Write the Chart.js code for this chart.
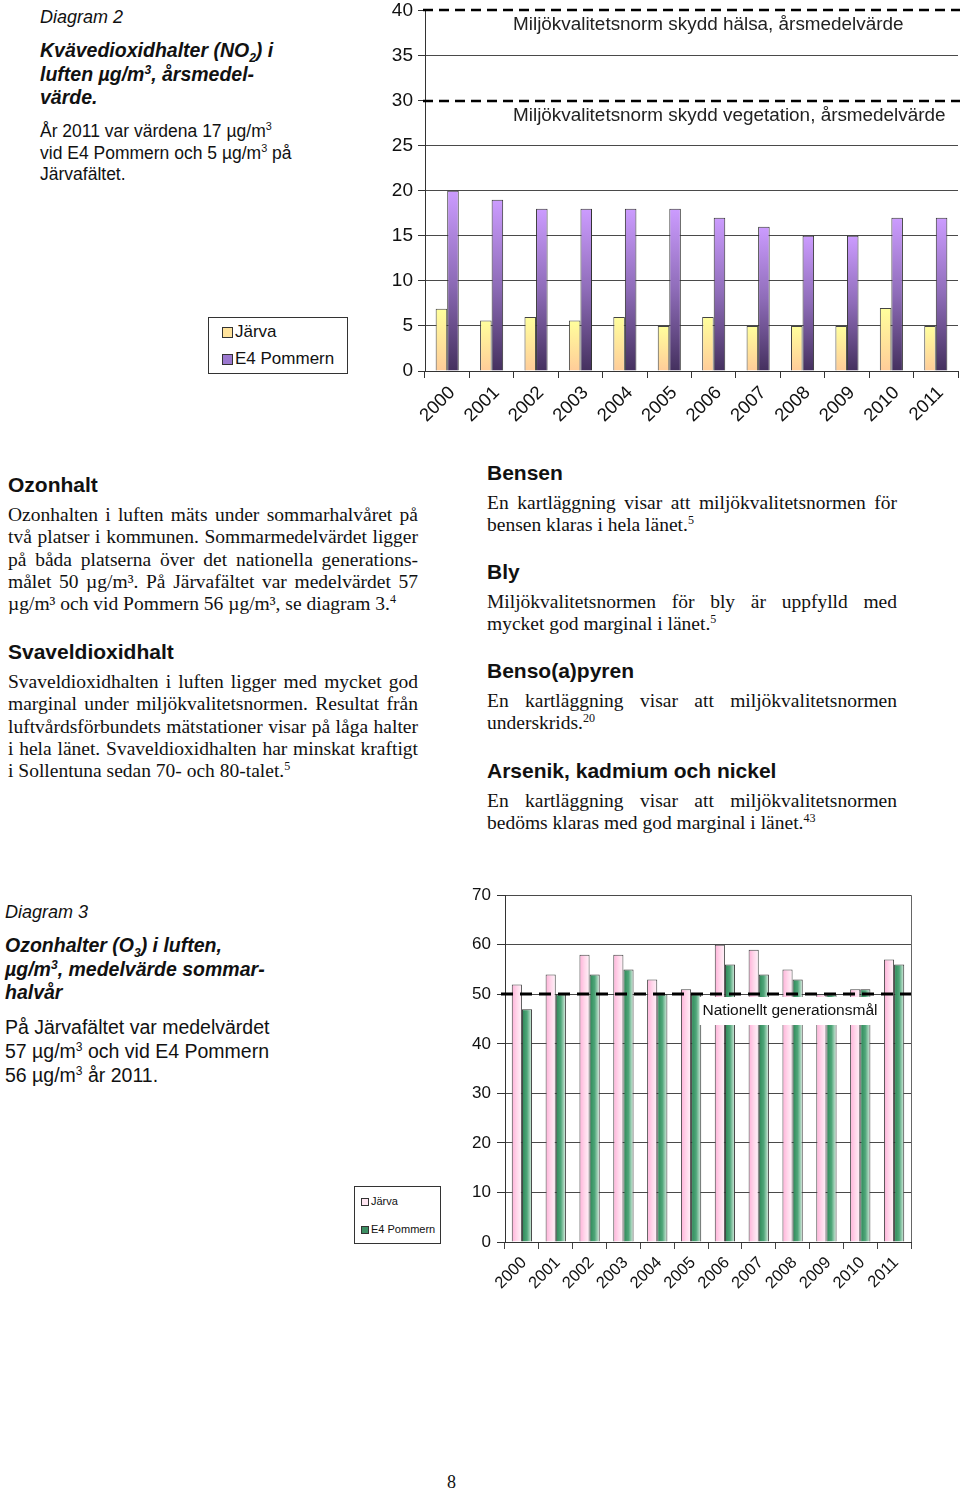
<!DOCTYPE html>
<html lang="sv">
<head>
<meta charset="utf-8">
<title>Diagram 2 och 3</title>
<script src="https://cdn.jsdelivr.net/npm/chart.js@4.4.1/dist/chart.umd.min.js"></script>
<style>
    body { margin: 0; width: 960px; height: 1491px; position: relative; background: #fff; color: #111; font-family: "Liberation Sans", Arial, sans-serif; overflow: hidden; }
    .abs { position: absolute; white-space: nowrap; }
    .cap { font-style: italic; font-size: 18px; line-height: 22px; }
    .title { font-style: italic; font-weight: bold; font-size: 19.5px; line-height: 23.5px; }
    .note { font-size: 17.5px; line-height: 21.5px; }
    .note2 { font-size: 19.5px; line-height: 24px; }
    .head { font-weight: bold; font-size: 21px; line-height: 26px; }
    .para { font-family: "Liberation Serif", "Times New Roman", serif; font-size: 19.5px; line-height: 22.3px; width: 410px; white-space: normal; }
    .para div { text-align: justify; text-align-last: justify; white-space: nowrap; }
    .para div.last { text-align-last: left; }
    sup, sub { font-size: 0.62em; line-height: 0; }
    .legend { border: 1px solid #333; background: #fff; }
    .legend .item { position: absolute; white-space: nowrap; }
    .legend .sw { display: inline-block; border: 1px solid #333; vertical-align: middle; }
    canvas { position: absolute; }
</style>
</head>
<body>

<div class="abs cap" style="left:40px; top:6px;">Diagram 2</div>
<div class="abs title" style="left:40px; top:39px;">
    <div>Kvävedioxidhalter (NO<sub>2</sub>) i</div>
    <div>luften µg/m<sup>3</sup>, årsmedel-</div>
    <div>värde.</div>
</div>
<div class="abs note" style="left:40px; top:121px;">
    <div>År 2011 var värdena 17 µg/m<sup>3</sup></div>
    <div>vid E4 Pommern och 5 µg/m<sup>3</sup> på</div>
    <div>Järvafältet.</div>
</div>

<div id="legendNo2" class="abs legend" style="left:208px; top:317px; width:138px; height:55px;"></div>
<canvas id="chartNo2" width="580" height="440" style="left:380px; top:-6px;"></canvas>

<div class="abs head" style="left:8px; top:472px;">Ozonhalt</div>
<div class="abs para" style="left:8px; top:504px;">
    <div>Ozonhalten i luften mäts under sommarhalvåret på</div>
    <div>två platser i kommunen. Sommarmedelvärdet ligger</div>
    <div>på båda platserna över det nationella generations-</div>
    <div>målet 50 µg/m³. På Järvafältet var medelvärdet 57</div>
    <div class="last">µg/m³ och vid Pommern 56 µg/m³, se diagram 3.<sup>4</sup></div>
</div>
<div class="abs head" style="left:8px; top:639px;">Svaveldioxidhalt</div>
<div class="abs para" style="left:8px; top:671px;">
    <div>Svaveldioxidhalten i luften ligger med mycket god</div>
    <div>marginal under miljökvalitetsnormen. Resultat från</div>
    <div>luftvårdsförbundets mätstationer visar på låga halter</div>
    <div>i hela länet. Svaveldioxidhalten har minskat kraftigt</div>
    <div class="last">i Sollentuna sedan 70- och 80-talet.<sup>5</sup></div>
</div>

<div class="abs head" style="left:487px; top:460px;">Bensen</div>
<div class="abs para" style="left:487px; top:492px;">
    <div>En kartläggning visar att miljökvalitetsnormen för</div>
    <div class="last">bensen klaras i hela länet.<sup>5</sup></div>
</div>
<div class="abs head" style="left:487px; top:559px;">Bly</div>
<div class="abs para" style="left:487px; top:591px;">
    <div>Miljökvalitetsnormen för bly är uppfylld med</div>
    <div class="last">mycket god marginal i länet.<sup>5</sup></div>
</div>
<div class="abs head" style="left:487px; top:658px;">Benso(a)pyren</div>
<div class="abs para" style="left:487px; top:690px;">
    <div>En kartläggning visar att miljökvalitetsnormen</div>
    <div class="last">underskrids.<sup>20</sup></div>
</div>
<div class="abs head" style="left:487px; top:758px;">Arsenik, kadmium och nickel</div>
<div class="abs para" style="left:487px; top:790px;">
    <div>En kartläggning visar att miljökvalitetsnormen</div>
    <div class="last">bedöms klaras med god marginal i länet.<sup>43</sup></div>
</div>

<div class="abs cap" style="left:5px; top:901px;">Diagram 3</div>
<div class="abs title" style="left:5px; top:934px;">
    <div>Ozonhalter (O<sub>3</sub>) i luften,</div>
    <div>µg/m<sup>3</sup>, medelvärde sommar-</div>
    <div>halvår</div>
</div>
<div class="abs note2" style="left:5px; top:1015px;">
    <div>På Järvafältet var medelvärdet</div>
    <div>57 µg/m<sup>3</sup> och vid E4 Pommern</div>
    <div>56 µg/m<sup>3</sup> år 2011.</div>
</div>

<div id="legendO3" class="abs legend" style="left:354px; top:1186px; width:85px; height:56px;"></div>
<canvas id="chartO3" width="470" height="430" style="left:450px; top:879px;"></canvas>

<div class="abs" style="left:447px; top:1472px; font-family:'Liberation Serif', serif; font-size:18px;">8</div>

<script>
const years = ['2000', '2001', '2002', '2003', '2004', '2005', '2006', '2007', '2008', '2009', '2010', '2011'];
const seriesNames = ['Järva', 'E4 Pommern'];

// Diagram 2, NO2 årsmedelvärde
const no2Jarva = [6.9, 5.6, 6, 5.6, 6, 5, 6, 5, 5, 5, 7, 5];
const no2Pommern = [20, 19, 18, 18, 18, 18, 17, 16, 15, 15, 17, 17];
const no2Ticks = [0, 5, 10, 15, 20, 25, 30, 35, 40];
const no2Norms = [40, 30];
const no2NormLabels = ['Miljökvalitetsnorm skydd hälsa, årsmedelvärde', 'Miljökvalitetsnorm skydd vegetation, årsmedelvärde'];

// Diagram 3, O3 sommarhalvår
const o3Jarva = [52, 54, 58, 58, 53, 51, 60, 59, 55, 50, 51, 57];
const o3Pommern = [47, 50, 54, 55, 50, 50, 56, 54, 53, 50, 51, 56];
const o3Ticks = [0, 10, 20, 30, 40, 50, 60, 70];
const o3Goal = 50;
const o3GoalLabel = 'Nationellt generationsmål';

const FONT = '"Liberation Sans", Arial, sans-serif';

// gradient per stapel, lodrät (diagram 2) eller vågrät (diagram 3)
function barFill(stops, horizontal, catPct) {
    return (c) => {
        const chart = c.chart;
        if (!chart.chartArea || c.raw == null) return stops[0];
        const x = chart.scales.x;
        const y = chart.scales.y;
        let g;
        if (horizontal) {
            const w = x.width / chart.data.labels.length * catPct / 2;
            const mid = x.getPixelForValue(c.dataIndex);
            const left = c.datasetIndex === 0 ? mid - w : mid;
            g = chart.ctx.createLinearGradient(left, 0, left + w, 0);
        } else {
            g = chart.ctx.createLinearGradient(0, y.getPixelForValue(c.raw), 0, y.getPixelForValue(0));
        }
        stops.forEach((col, i) => g.addColorStop(i / (stops.length - 1), col));
        return g;
    };
}

function buildLegend(el, swatches, size, font, rows, textLeft) {
    seriesNames.forEach((name, i) => {
        const d = document.createElement('div');
        d.className = 'item';
        d.style.cssText = `left:${textLeft}px; top:${rows[i]}px; font-size:${font}px;`;
        d.innerHTML = `<span class="sw" style="width:${size}px;height:${size}px;background:${swatches[i]};margin-right:2px;"></span>${name}`;
        el.appendChild(d);
    });
}

buildLegend(document.getElementById('legendNo2'), ['#ffe39c', '#9b78cf'], 9, 17, [4, 31], 13);
buildLegend(document.getElementById('legendO3'), ['#ffe6f2', '#3d8f63'], 6, 11, [8, 36], 6);

const no2NormPlugin = {
    id: 'no2Norms',
    afterDraw(chart) {
        const { ctx, chartArea: a, scales: { y } } = chart;
        ctx.save();
        no2Norms.forEach((v, i) => {
            const py = Math.round(y.getPixelForValue(v));
            ctx.strokeStyle = '#000';
            ctx.lineWidth = 2.5;
            ctx.setLineDash([10, 6]);
            ctx.beginPath();
            ctx.moveTo(a.left - 2, py);
            ctx.lineTo(a.right + 2, py);
            ctx.stroke();
            ctx.setLineDash([]);
            ctx.fillStyle = '#222';
            ctx.font = '18.9px ' + FONT;
            ctx.textBaseline = 'middle';
            ctx.fillText(no2NormLabels[i], a.left + 88, py + 15);
        });
        ctx.restore();
    }
};

const o3GoalPlugin = {
    id: 'o3Goal',
    afterDatasetsDraw(chart) {
        const { ctx, chartArea: a, scales: { y } } = chart;
        const py = Math.round(y.getPixelForValue(o3Goal));
        ctx.save();
        ctx.font = '15.5px ' + FONT;
        const w = ctx.measureText(o3GoalLabel).width + 6;
        const cx = a.right - 121;
        ctx.fillStyle = '#fff';
        ctx.fillRect(cx - w / 2, py + 3, w, 28);
        ctx.fillStyle = '#111';
        ctx.textAlign = 'center';
        ctx.textBaseline = 'middle';
        ctx.fillText(o3GoalLabel, cx, py + 17);
        ctx.strokeStyle = '#000';
        ctx.lineWidth = 3;
        ctx.setLineDash([12, 7]);
        ctx.beginPath();
        ctx.moveTo(a.left - 4, py);
        ctx.lineTo(a.right, py);
        ctx.stroke();
        ctx.setLineDash([]);
        ctx.strokeStyle = '#666';
        ctx.lineWidth = 1;
        ctx.beginPath();
        ctx.moveTo(a.right + 0.5, a.top);
        ctx.lineTo(a.right + 0.5, a.bottom);
        ctx.stroke();
        ctx.restore();
    }
};

const NO2_CAT = 0.52;
new Chart(document.getElementById('chartNo2'), {
    type: 'bar',
    data: {
        labels: years,
        datasets: [
            { label: seriesNames[0], data: no2Jarva, backgroundColor: barFill(['#ffff9c', '#ffcc99'], false), borderColor: '#444', borderWidth: 1 },
            { label: seriesNames[1], data: no2Pommern, backgroundColor: barFill(['#cc9cff', '#8e6cb8', '#44305e'], false), borderColor: '#333', borderWidth: 1 }
        ]
    },
    options: {
        responsive: false,
        animation: false,
        datasets: { bar: { barPercentage: 1, categoryPercentage: NO2_CAT } },
        layout: { padding: { top: 4, right: 2, left: 0, bottom: 0 } },
        plugins: { legend: { display: false }, tooltip: { enabled: false } },
        scales: {
            x: {
                grid: { offset: true, drawOnChartArea: false, color: '#333', tickLength: 7 },
                border: { color: '#333' },
                ticks: { minRotation: 45, maxRotation: 45, color: '#111', font: { family: FONT, size: 18.5 }, padding: 4, labelOffset: 5 },
                afterFit: (s) => { s.height = 63; }
            },
            y: {
                min: 0,
                max: 40,
                afterBuildTicks: (s) => { s.ticks = no2Ticks.map(v => ({ value: v })); },
                ticks: { color: '#111', font: { family: FONT, size: 19 }, padding: 5 },
                grid: { color: (c) => no2Norms.includes(c.tick.value) ? 'rgba(0,0,0,0)' : '#4a4a4a', tickColor: '#333', tickLength: 7 },
                border: { color: '#333' },
                afterFit: (s) => { s.width = 45; }
            }
        }
    },
    plugins: [no2NormPlugin]
});

const O3_CAT = 0.6;
new Chart(document.getElementById('chartO3'), {
    type: 'bar',
    data: {
        labels: years,
        datasets: [
            { label: seriesNames[0], data: o3Jarva, backgroundColor: barFill(['#ffb0d8', '#ffd6ea', '#fff3f9'], true, O3_CAT), borderColor: '#444', borderWidth: 1 },
            { label: seriesNames[1], data: o3Pommern, backgroundColor: barFill(['#2c8656', '#4fa679', '#e2f2e8'], true, O3_CAT), borderColor: '#333', borderWidth: 1 }
        ]
    },
    options: {
        responsive: false,
        animation: false,
        datasets: { bar: { barPercentage: 1, categoryPercentage: O3_CAT } },
        layout: { padding: { top: 14, right: 9, left: 0, bottom: 0 } },
        plugins: { legend: { display: false }, tooltip: { enabled: false } },
        scales: {
            x: {
                grid: { offset: true, drawOnChartArea: false, color: '#444', tickLength: 7 },
                border: { color: '#333' },
                ticks: { minRotation: 45, maxRotation: 45, color: '#111', font: { family: FONT, size: 16.5 }, padding: 4, labelOffset: 2 },
                afterFit: (s) => { s.height = 67; }
            },
            y: {
                min: 0,
                max: 70,
                afterBuildTicks: (s) => { s.ticks = o3Ticks.map(v => ({ value: v })); },
                ticks: { color: '#111', font: { family: FONT, size: 17 }, padding: 6 },
                grid: { color: '#4a4a4a', tickColor: '#333', tickLength: 8 },
                border: { color: '#333' },
                afterFit: (s) => { s.width = 55; }
            }
        }
    },
    plugins: [o3GoalPlugin]
});
</script>
</body>
</html>
